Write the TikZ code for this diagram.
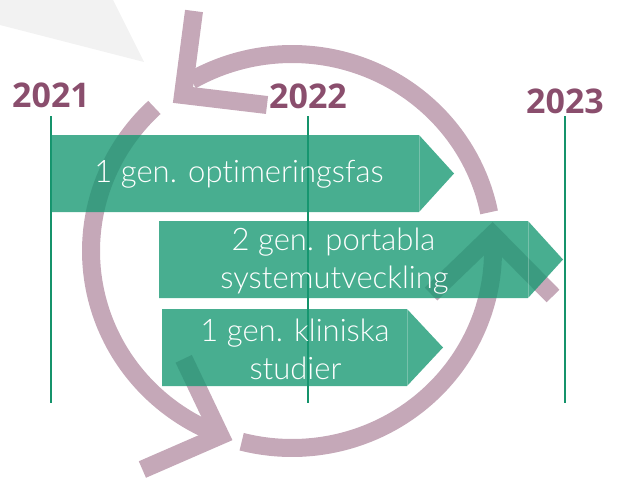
\documentclass[tikz,border=0pt]{standalone}
\usepackage{fontspec}
\newfontfamily\boxfont{Lato Light}[Ligatures={NoCommon}]
\newfontfamily\yearfont{Open Sans}
\definecolor{arcmauve}{HTML}{C5A8B8}
\definecolor{yearcol}{HTML}{8A4E6D}
\definecolor{boxgreen}{HTML}{179872}
\definecolor{linegreen}{HTML}{15936B}
\definecolor{bggray}{HTML}{F2F2F2}
\tikzset{
  cyclearc/.style={draw=arcmauve, line width=18pt, line cap=butt},
  chevron/.style={draw=arcmauve, line width=18pt, line cap=butt, line join=miter},
  yearline/.style={draw=linegreen, line width=2pt},
  phasebox/.style={fill=boxgreen, fill opacity=0.79},
  seam/.style={draw=white, draw opacity=0.25, line width=0.8pt},
  phasetext/.style={text=white, inner sep=0pt, anchor=base, font=\boxfont\fontsize{31}{37}\selectfont},
  yeartext/.style={text=yearcol, inner sep=0pt, anchor=base, font=\yearfont\bfseries\fontsize{34}{40}\selectfont}
}
\begin{document}
\begin{tikzpicture}[x=1pt,y=-1pt]
\useasboundingbox (0,0) rectangle (620,477);
% gray background wedge
\fill[bggray] (0,0) -- (113,0) -- (144,62) -- (0,25) -- cycle;
% year lines
\coordinate (l1a) at (51,116); \coordinate (l1b) at (51,403);
\coordinate (l2a) at (308,116); \coordinate (l2b) at (308,403);
\coordinate (l3a) at (565,116); \coordinate (l3b) at (565,403);
\draw[yearline] (l1a) -- (l1b);
\draw[yearline] (l2a) -- (l2b);
\draw[yearline] (l3a) -- (l3b);
% cyclic arrow
\draw[cyclearc] plot[domain=-120:-11.3, samples=80] ({292+201*cos(\x)},{251+197*sin(\x)});
\draw[cyclearc] plot[domain=113:226.8, samples=80] ({292+201*cos(\x)},{251+197*sin(\x)});
\draw[cyclearc] plot[domain=-2:104.5, samples=80] ({292+201*cos(\x)},{251+197*sin(\x)});
\draw[chevron] (194,11) -- (183,95) -- (267,105);
\draw[chevron] (183.7,358.8) -- (220.3,435.6) -- (142.4,469.5);
\draw[chevron] (431,294) -- (492.5,234.6) -- (553,296);
% phase boxes
\fill[phasebox] (51,135) -- (419,135) -- (454,173.5) -- (419,212) -- (51,212) -- cycle;
\fill[phasebox] (159,221) -- (528,221) -- (563,259.5) -- (528,298) -- (159,298) -- cycle;
\fill[phasebox] (162,309) -- (407,309) -- (443,347.5) -- (407,386) -- (162,386) -- cycle;
\draw[seam] (419,135) -- (419,212);
\draw[seam] (528,221) -- (528,298);
\draw[seam] (407,309) -- (407,386);
% texts
\node[phasetext] (t1) at (239,182) {1 gen. optimeringsfas};
\node[phasetext] (t2a) at (333.5,250.7) {2 gen. portabla};
\node[phasetext] (t2b) at (334.5,288.3) {systemutveckling};
\node[phasetext] (t3a) at (295,341) {1 gen. kliniska};
\node[phasetext] (t3b) at (295.5,379.3) {studier};
\node[yeartext] (y1) at (51,107) {2021};
\node[yeartext] (y2) at (308,108) {2022};
\node[yeartext] (y3) at (565,113) {2023};
\end{tikzpicture}
\end{document}
